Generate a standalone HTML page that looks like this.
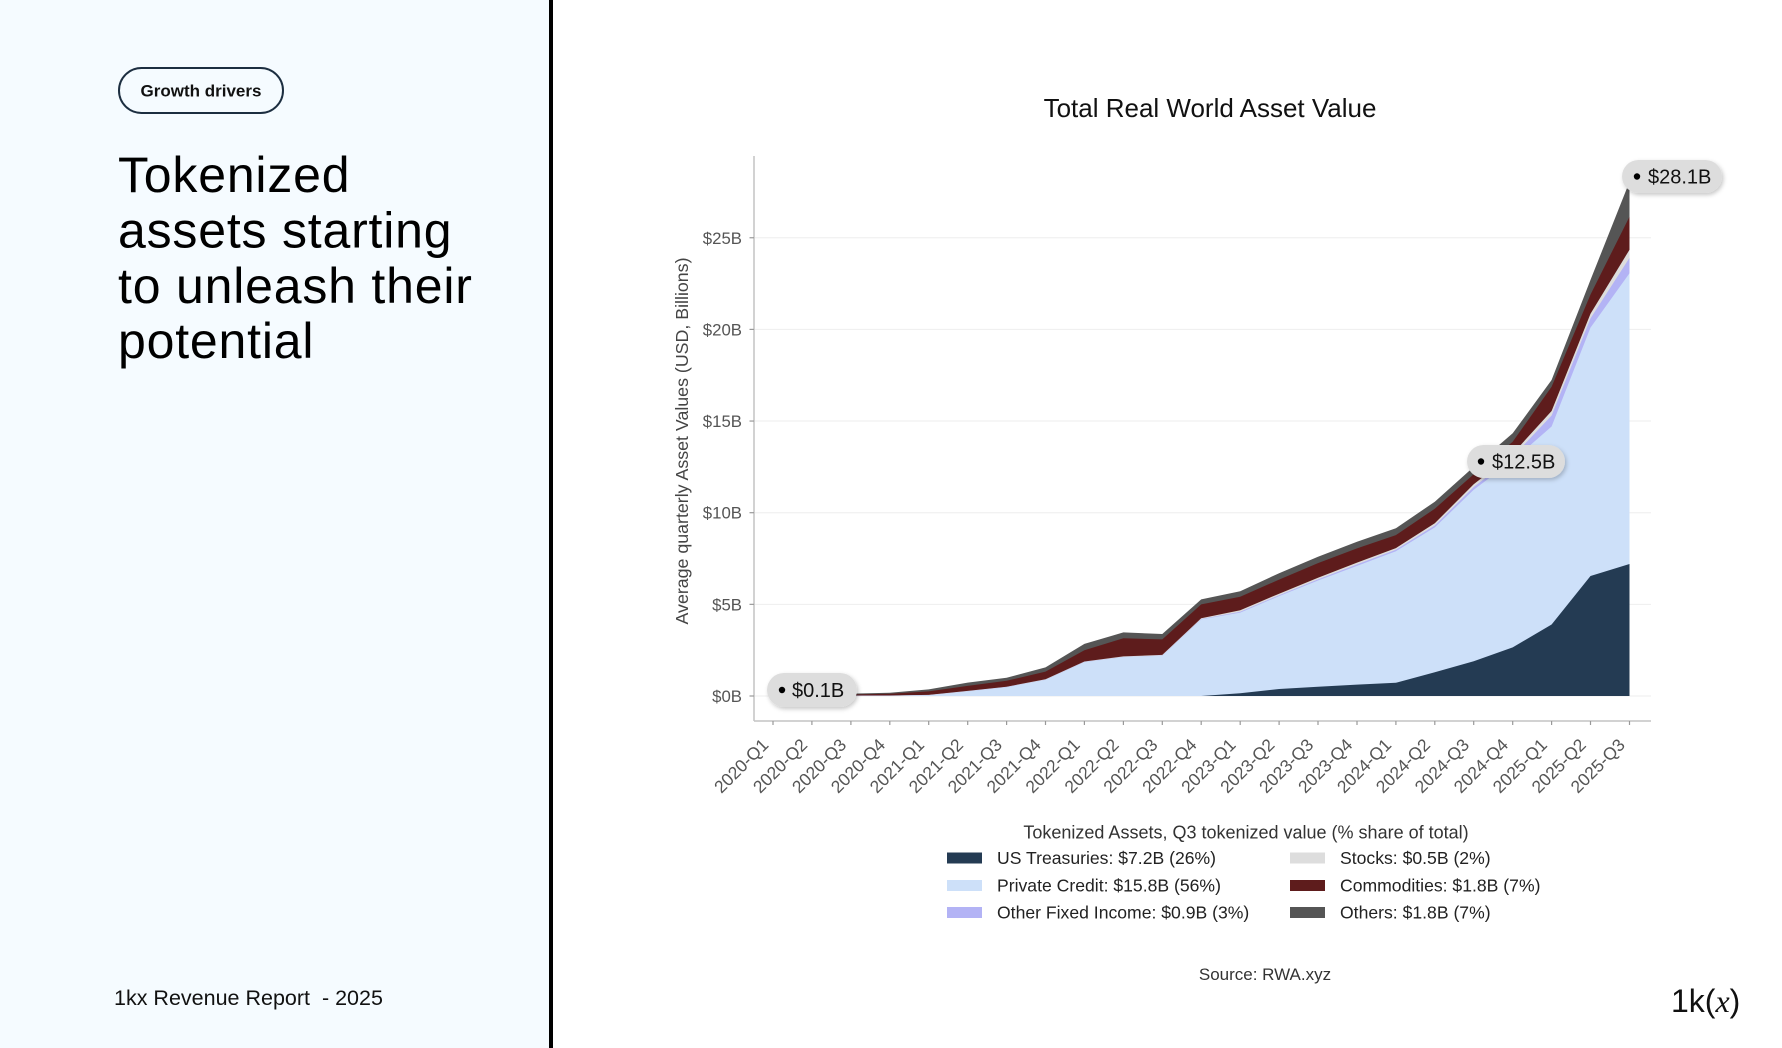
<!DOCTYPE html>
<html>
<head>
<meta charset="utf-8">
<style>
  html,body{margin:0;padding:0;background:#fff;}
  body{width:1782px;height:1048px;overflow:hidden;}
  svg{display:block;}
  text{font-family:"Liberation Sans", sans-serif;}
</style>
</head>
<body>
<svg width="1782" height="1048" viewBox="0 0 1782 1048" xmlns="http://www.w3.org/2000/svg">
  <defs>
    <filter id="sh" x="-20%" y="-30%" width="140%" height="170%">
      <feDropShadow dx="1.5" dy="2" stdDeviation="2" flood-color="#000" flood-opacity="0.22"/>
    </filter>
  </defs>

  <!-- backgrounds -->
  <rect x="0" y="0" width="1782" height="1048" fill="#ffffff"/>
  <rect x="0" y="0" width="549" height="1048" fill="#f5fbff"/>
  <rect x="549" y="0" width="4" height="1048" fill="#000"/>

  <!-- left panel -->
  <rect x="119" y="68" width="164" height="45" rx="22.5" ry="22.5" fill="none" stroke="#1c2e40" stroke-width="2"/>
  <text x="201" y="96.5" text-anchor="middle" font-size="17" font-weight="bold" fill="#111">Growth drivers</text>

  <g font-size="50" fill="#000" letter-spacing="0.8">
    <text x="118" y="192">Tokenized</text>
    <text x="118" y="247.5">assets starting</text>
    <text x="118" y="303">to unleash their</text>
    <text x="118" y="358">potential</text>
  </g>

  <text x="114" y="1005" font-size="21.5" fill="#111">1kx Revenue Report&#160; - 2025</text>

  <!-- logo -->
  <text x="1671" y="1012" font-size="32" fill="#111">1k(<tspan font-family="Liberation Serif, serif" font-style="italic">x</tspan>)</text>

  <!-- chart title -->
  <text x="1210" y="117" text-anchor="middle" font-size="26" fill="#111">Total Real World Asset Value</text>

  <!-- gridlines -->
  <g stroke="#eeeeee" stroke-width="1">
    <line x1="754" y1="604.35" x2="1651" y2="604.35"/>
    <line x1="754" y1="512.7" x2="1651" y2="512.7"/>
    <line x1="754" y1="421.05" x2="1651" y2="421.05"/>
    <line x1="754" y1="329.4" x2="1651" y2="329.4"/>
    <line x1="754" y1="237.75" x2="1651" y2="237.75"/>
    <line x1="754" y1="696" x2="1651" y2="696"/>
  </g>

  <!-- stacked areas -->
  <polygon fill="#555555" points="773,694.2 811.9,694.0 850.9,693.6 889.8,692.7 928.7,689.4 967.7,682.6 1006.6,677.7 1045.5,667.4 1084.4,643.9 1123.4,632.4 1162.3,634.0 1201.2,599.4 1240.2,591.2 1279.1,573.2 1318,556.7 1357,541.7 1395.9,528.3 1434.8,501.7 1473.7,466.9 1512.7,433.3 1551.6,380.0 1590.5,279.9 1629.5,181.8 1629.5,696 773,696"/>
  <polygon fill="#5e1c1c" points="773,694.9 811.9,694.7 850.9,694.5 889.8,693.8 928.7,691.4 967.7,685.9 1006.6,680.8 1045.5,671.6 1084.4,650.2 1123.4,638.3 1162.3,639.4 1201.2,604.4 1240.2,596.7 1279.1,579.6 1318,563.1 1357,548.4 1395.9,535.1 1434.8,508.7 1473.7,474.2 1512.7,441.8 1551.6,386.8 1590.5,294.6 1629.5,216.7 1629.5,696 773,696"/>
  <polygon fill="#dddddd" points="773,695.8 811.9,695.8 850.9,695.6 889.8,695.5 928.7,694.9 967.7,690.9 1006.6,686.7 1045.5,679.3 1084.4,661.5 1123.4,656.4 1162.3,654.9 1201.2,618.3 1240.2,610.2 1279.1,593.7 1318,577.8 1357,562.6 1395.9,548.1 1434.8,523.3 1473.7,484.3 1512.7,453.7 1551.6,411.0 1590.5,313.8 1629.5,249.7 1629.5,696 773,696"/>
  <polygon fill="#b3b3f5" points="773,695.8 811.9,695.8 850.9,695.8 889.8,695.6 928.7,695.1 967.7,691.2 1006.6,687.0 1045.5,679.7 1084.4,661.9 1123.4,657.0 1162.3,655.5 1201.2,619.0 1240.2,611.7 1279.1,595.2 1318,579.4 1357,564.4 1395.9,549.7 1434.8,525.5 1473.7,487.0 1512.7,456.8 1551.6,415.5 1590.5,318.4 1629.5,257.9 1629.5,696 773,696"/>
  <polygon fill="#cde0f9" points="773,695.8 811.9,695.8 850.9,695.8 889.8,695.6 928.7,695.1 967.7,691.4 1006.6,687.2 1045.5,679.9 1084.4,662.1 1123.4,657.1 1162.3,655.7 1201.2,619.4 1240.2,612.6 1279.1,596.1 1318,580.5 1357,565.9 1395.9,551.2 1434.8,527.4 1473.7,489.8 1512.7,460.5 1551.6,426.5 1590.5,327.6 1629.5,273.3 1629.5,696 773,696"/>
  <polygon fill="#243b53" points="773,696 1201.2,696 1240.2,693.3 1279.1,689.0 1318,686.8 1357,684.6 1395.9,682.8 1434.8,672.2 1473.7,661.2 1512.7,647.4 1551.6,624.5 1590.5,576.0 1629.5,564.0 1629.5,696"/>

  <!-- axes -->
  <g stroke="#c4c4c4" stroke-width="1.5">
    <line x1="754" y1="156" x2="754" y2="721"/>
    <line x1="754" y1="721" x2="1651" y2="721"/>
  </g>

  <!-- y ticks -->
  <g stroke="#999" stroke-width="1.2">
    <line x1="749.5" y1="696" x2="754" y2="696"/>
    <line x1="749.5" y1="604.35" x2="754" y2="604.35"/>
    <line x1="749.5" y1="512.7" x2="754" y2="512.7"/>
    <line x1="749.5" y1="421.05" x2="754" y2="421.05"/>
    <line x1="749.5" y1="329.4" x2="754" y2="329.4"/>
    <line x1="749.5" y1="237.75" x2="754" y2="237.75"/>
  </g>
  <g font-size="16.8" fill="#555" text-anchor="end">
    <text x="742" y="702">$0B</text>
    <text x="742" y="610.35">$5B</text>
    <text x="742" y="518.7">$10B</text>
    <text x="742" y="427.05">$15B</text>
    <text x="742" y="335.4">$20B</text>
    <text x="742" y="243.75">$25B</text>
  </g>

  <!-- y axis title -->
  <text transform="translate(688,441) rotate(-90)" text-anchor="middle" font-size="17.8" fill="#444">Average quarterly Asset Values (USD, Billions)</text>

  <!-- x ticks -->
  <g stroke="#999" stroke-width="1.2">
    <line x1="773" y1="721" x2="773" y2="725"/>
    <line x1="811.9" y1="721" x2="811.9" y2="725"/>
    <line x1="850.9" y1="721" x2="850.9" y2="725"/>
    <line x1="889.8" y1="721" x2="889.8" y2="725"/>
    <line x1="928.7" y1="721" x2="928.7" y2="725"/>
    <line x1="967.7" y1="721" x2="967.7" y2="725"/>
    <line x1="1006.6" y1="721" x2="1006.6" y2="725"/>
    <line x1="1045.5" y1="721" x2="1045.5" y2="725"/>
    <line x1="1084.4" y1="721" x2="1084.4" y2="725"/>
    <line x1="1123.4" y1="721" x2="1123.4" y2="725"/>
    <line x1="1162.3" y1="721" x2="1162.3" y2="725"/>
    <line x1="1201.2" y1="721" x2="1201.2" y2="725"/>
    <line x1="1240.2" y1="721" x2="1240.2" y2="725"/>
    <line x1="1279.1" y1="721" x2="1279.1" y2="725"/>
    <line x1="1318" y1="721" x2="1318" y2="725"/>
    <line x1="1357" y1="721" x2="1357" y2="725"/>
    <line x1="1395.9" y1="721" x2="1395.9" y2="725"/>
    <line x1="1434.8" y1="721" x2="1434.8" y2="725"/>
    <line x1="1473.7" y1="721" x2="1473.7" y2="725"/>
    <line x1="1512.7" y1="721" x2="1512.7" y2="725"/>
    <line x1="1551.6" y1="721" x2="1551.6" y2="725"/>
    <line x1="1590.5" y1="721" x2="1590.5" y2="725"/>
    <line x1="1629.5" y1="721" x2="1629.5" y2="725"/>
  </g>
  <g font-size="17.5" fill="#555" text-anchor="end">
    <text transform="translate(769.5,746) rotate(-45)">2020-Q1</text>
    <text transform="translate(808.4,746) rotate(-45)">2020-Q2</text>
    <text transform="translate(847.4,746) rotate(-45)">2020-Q3</text>
    <text transform="translate(886.3,746) rotate(-45)">2020-Q4</text>
    <text transform="translate(925.2,746) rotate(-45)">2021-Q1</text>
    <text transform="translate(964.2,746) rotate(-45)">2021-Q2</text>
    <text transform="translate(1003.1,746) rotate(-45)">2021-Q3</text>
    <text transform="translate(1042,746) rotate(-45)">2021-Q4</text>
    <text transform="translate(1080.9,746) rotate(-45)">2022-Q1</text>
    <text transform="translate(1119.9,746) rotate(-45)">2022-Q2</text>
    <text transform="translate(1158.8,746) rotate(-45)">2022-Q3</text>
    <text transform="translate(1197.7,746) rotate(-45)">2022-Q4</text>
    <text transform="translate(1236.7,746) rotate(-45)">2023-Q1</text>
    <text transform="translate(1275.6,746) rotate(-45)">2023-Q2</text>
    <text transform="translate(1314.5,746) rotate(-45)">2023-Q3</text>
    <text transform="translate(1353.5,746) rotate(-45)">2023-Q4</text>
    <text transform="translate(1392.4,746) rotate(-45)">2024-Q1</text>
    <text transform="translate(1431.3,746) rotate(-45)">2024-Q2</text>
    <text transform="translate(1470.2,746) rotate(-45)">2024-Q3</text>
    <text transform="translate(1509.2,746) rotate(-45)">2024-Q4</text>
    <text transform="translate(1548.1,746) rotate(-45)">2025-Q1</text>
    <text transform="translate(1587,746) rotate(-45)">2025-Q2</text>
    <text transform="translate(1626,746) rotate(-45)">2025-Q3</text>
  </g>

  <!-- annotation bubbles -->
  <g filter="url(#sh)" fill="#dddddd">
    <rect x="767" y="673" width="90" height="34" rx="17" ry="17"/>
    <rect x="1467" y="445" width="98" height="33" rx="16.5" ry="16.5"/>
    <rect x="1622" y="160" width="100" height="33" rx="16.5" ry="16.5"/>
  </g>
  <g fill="#000">
    <circle cx="782" cy="690" r="3.2"/>
    <circle cx="1481" cy="461.5" r="3.2"/>
    <circle cx="1637" cy="176.5" r="3.2"/>
  </g>
  <g font-size="20" fill="#111">
    <text x="792" y="697">$0.1B</text>
    <text x="1492" y="468.5">$12.5B</text>
    <text x="1648" y="183.5">$28.1B</text>
  </g>

  <!-- legend -->
  <text x="1246" y="838.5" text-anchor="middle" font-size="18" fill="#333">Tokenized Assets, Q3 tokenized value (% share of total)</text>
  <rect x="947" y="852.5" width="35" height="11" fill="#243b53"/>
  <rect x="947" y="880" width="35" height="11" fill="#cde0f9"/>
  <rect x="947" y="907" width="35" height="11" fill="#b3b3f5"/>
  <rect x="1290" y="852.5" width="35" height="11" fill="#dddddd"/>
  <rect x="1290" y="880" width="35" height="11" fill="#5e1c1c"/>
  <rect x="1290" y="907" width="35" height="11" fill="#555555"/>
  <g font-size="17.6" fill="#222">
    <text x="997" y="864">US Treasuries: $7.2B (26%)</text>
    <text x="997" y="891.5">Private Credit: $15.8B (56%)</text>
    <text x="997" y="918.5">Other Fixed Income: $0.9B (3%)</text>
    <text x="1340" y="864">Stocks: $0.5B (2%)</text>
    <text x="1340" y="891.5">Commodities: $1.8B (7%)</text>
    <text x="1340" y="918.5">Others: $1.8B (7%)</text>
  </g>

  <!-- source -->
  <text x="1265" y="980" text-anchor="middle" font-size="17" fill="#333">Source: RWA.xyz</text>
</svg>
</body>
</html>
